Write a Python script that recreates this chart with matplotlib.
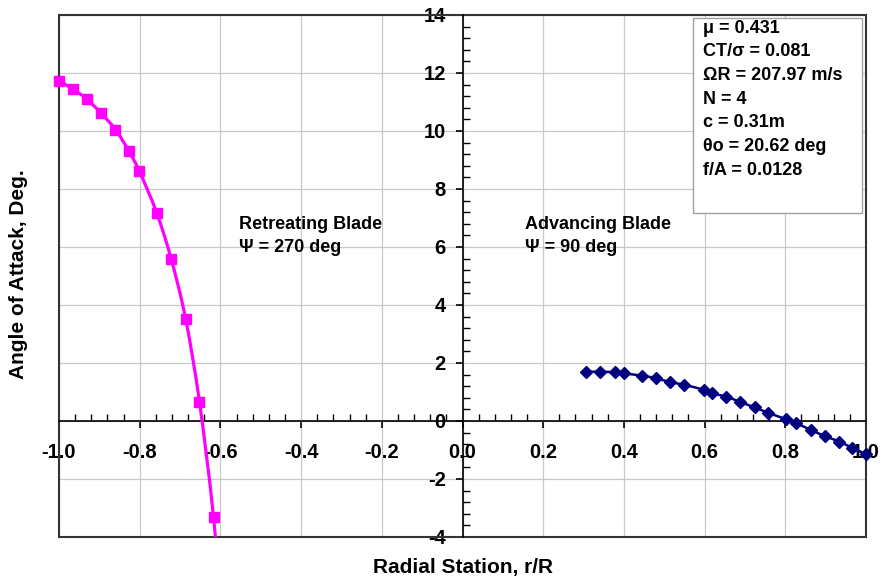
import numpy as np
import matplotlib
matplotlib.use("Agg")
import matplotlib.pyplot as plt
from matplotlib.path import Path
from matplotlib.patches import PathPatch, Rectangle
from matplotlib.ticker import MultipleLocator, FormatStrFormatter

plt.rcParams["font.family"] = ["Liberation Sans", "DejaVu Sans"]
plt.rcParams["font.weight"] = "bold"
plt.rcParams["axes.unicode_minus"] = False

# retreating blade, psi = 270 deg (r/R shown negative)
retreat_r = [-1.0, -0.966, -0.931, -0.897, -0.860, -0.827, -0.801, -0.758,
             -0.722, -0.686, -0.652, -0.617, -0.583]
retreat_aoa = [11.73, 11.45, 11.10, 10.63, 10.05, 9.31, 8.62, 7.18,
               5.59, 3.51, 0.67, -3.32, -8.6]

# advancing blade, psi = 90 deg
advance_r = [0.307, 0.342, 0.377, 0.401, 0.446, 0.480, 0.515, 0.549, 0.599,
             0.618, 0.654, 0.687, 0.724, 0.758, 0.802, 0.827, 0.864, 0.899,
             0.934, 0.966, 1.0]
advance_aoa = [1.70, 1.70, 1.68, 1.64, 1.56, 1.47, 1.34, 1.25, 1.07,
               0.95, 0.84, 0.66, 0.47, 0.28, 0.06, -0.08, -0.31, -0.53,
               -0.71, -0.93, -1.14]

params = ["\u03bc = 0.431", "CT/\u03c3 = 0.081", "\u03a9R = 207.97 m/s", "N = 4",
          "c = 0.31m", "\u03b8o = 20.62 deg", "f/A = 0.0128"]

XLIM = (-1.0, 1.0)
YLIM = (-4, 14)


def smooth_path(x, y):
    """Catmull-Rom style bezier path through the points (like Excel smoothing)."""
    pts = np.column_stack([x, y])
    verts = [pts[0]]
    codes = [Path.MOVETO]
    n = len(pts)
    for i in range(n - 1):
        p0 = pts[i - 1] if i > 0 else pts[i]
        p1 = pts[i]
        p2 = pts[i + 1]
        p3 = pts[i + 2] if i + 2 < n else pts[i + 1]
        verts += [p1 + (p2 - p0) / 6, p2 - (p3 - p1) / 6, p2]
        codes += [Path.CURVE4] * 3
    return Path(verts, codes)


def draw_series(ax, x, y, color, marker, ms, lw):
    ax.add_patch(PathPatch(smooth_path(x, y), facecolor="none", edgecolor=color,
                           lw=lw, zorder=4))
    x = np.asarray(x)
    y = np.asarray(y)
    keep = (y >= YLIM[0]) & (y <= YLIM[1])
    ax.plot(x[keep], y[keep], linestyle="none", marker=marker, ms=ms,
            color=color, clip_on=False, zorder=5)


fig = plt.figure(figsize=(8.84, 5.88), dpi=100)
ax = fig.add_axes([59 / 884, 51 / 588, 807 / 884, 522 / 588])
ax.set_xlim(*XLIM)
ax.set_ylim(*YLIM)

# axes crossing at zero, frame drawn separately
ax.spines["left"].set_position(("data", 0))
ax.spines["bottom"].set_position(("data", 0))
ax.spines["top"].set_visible(False)
ax.spines["right"].set_visible(False)
for s in ("left", "bottom"):
    ax.spines[s].set_color("black")
    ax.spines[s].set_linewidth(1.2)
    ax.spines[s].set_zorder(3)
ax.add_patch(Rectangle((0, 0), 1, 1, transform=ax.transAxes, fill=False,
                       edgecolor="#333333", lw=1.5, clip_on=False, zorder=3))

ax.xaxis.set_major_locator(MultipleLocator(0.2))
ax.xaxis.set_minor_locator(MultipleLocator(0.04))
ax.yaxis.set_major_locator(MultipleLocator(2))
ax.yaxis.set_minor_locator(MultipleLocator(0.4))
ax.xaxis.set_major_formatter(FormatStrFormatter("%.1f"))
ax.tick_params(which="major", direction="out", length=5, width=1.2,
               labelsize=14.5)
ax.tick_params(axis="x", which="major", pad=11)
ax.tick_params(axis="y", which="major", pad=7)
ax.tick_params(which="minor", direction="in", length=5, width=1)
ax.grid(True, which="major", color="#c8c8c8", lw=0.9, zorder=0)
ax.set_axisbelow(True)

draw_series(ax, retreat_r, retreat_aoa, "#ff00ff", "s", 7.5, 2.3)
draw_series(ax, advance_r, advance_aoa, "#000080", "D", 6.0, 1.8)

ax.text(-0.553, 6.76, "Retreating Blade", fontsize=13, va="center", ha="left")
ax.text(-0.553, 5.97, "\u03a8 = 270 deg", fontsize=13, va="center", ha="left")
ax.text(0.156, 6.76, "Advancing Blade", fontsize=13, va="center", ha="left")
ax.text(0.156, 5.97, "\u03a8 = 90 deg", fontsize=13, va="center", ha="left")

# parameter box
ax.add_patch(Rectangle((0.786, 0.621), 0.209, 0.373, transform=ax.transAxes,
                       facecolor="white", edgecolor="#a0a0a0", lw=1, zorder=6))
for i, line in enumerate(params):
    ax.text(0.798, 0.975 - i * 0.0454, line, transform=ax.transAxes,
            fontsize=13, va="center", ha="left", zorder=7)

fig.text(463 / 884, 1 - 568 / 588, "Radial Station, r/R", fontsize=15,
         ha="center", va="center")
fig.text(19 / 884, 1 - 274 / 588, "Angle of Attack, Deg.", fontsize=15,
         ha="center", va="center", rotation=90)

fig.savefig("out.png", dpi=100)
